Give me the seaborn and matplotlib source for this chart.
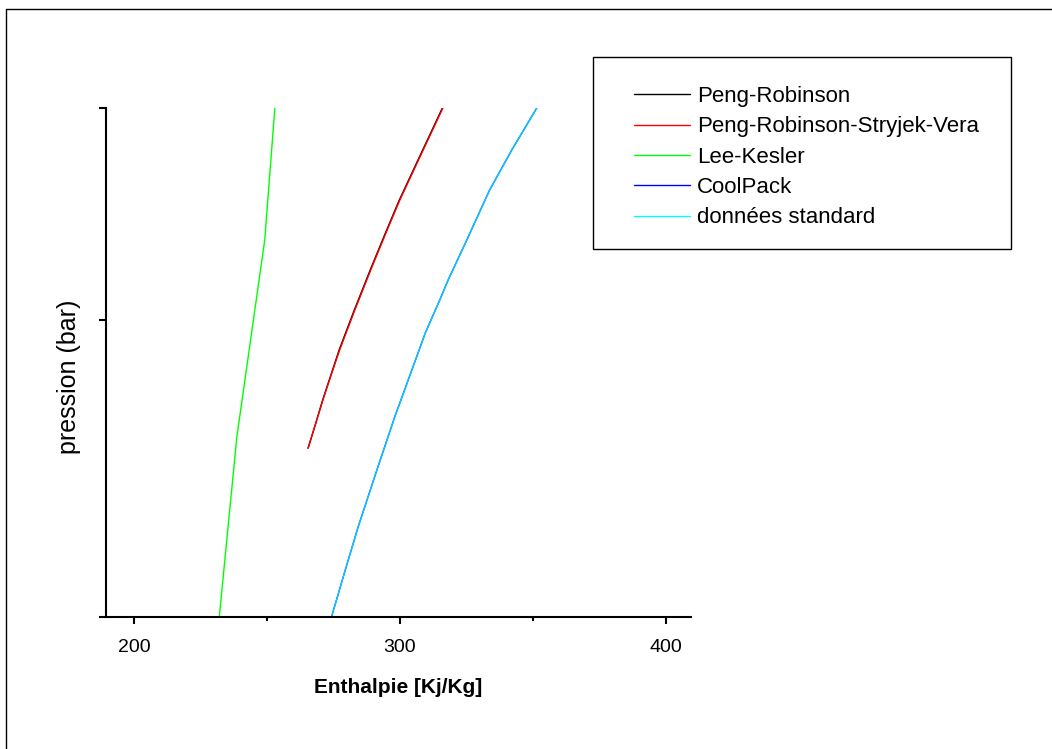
import matplotlib
matplotlib.use("Agg")
import matplotlib.pyplot as plt
from matplotlib.lines import Line2D
from matplotlib.patches import Rectangle
from matplotlib.ticker import FixedLocator, NullFormatter
import pandas as pd
import seaborn as sns

# Saturation curves: enthalpy [kJ/kg] against pressure [bar]
pr_h = [265.5, 268.2, 271.0, 274.1, 277.2, 282.9, 289.3, 294.3, 299.8, 307.7, 316.0]
pr_p = [3.98, 4.53, 5.12, 5.71, 6.30, 7.24, 8.25, 9.01, 9.83, 10.89, 12.0]

prsv_h = [265.5, 268.2, 271.1, 274.2, 277.4, 283.1, 289.5, 294.5, 300.0, 307.9, 316.2]
prsv_p = [3.98, 4.53, 5.12, 5.71, 6.30, 7.24, 8.25, 9.01, 9.83, 10.89, 12.0]

lk_h = [232.1, 238.7, 249.2, 253.0]
lk_p = [0.0, 4.24, 8.89, 12.0]

coolpack_h = [274.3, 279.5, 284.3, 291.4, 298.1, 304.5, 309.6, 315.0, 318.2,
              325.2, 333.8, 342.1, 351.5]
coolpack_p = [0.0, 1.11, 2.12, 3.47, 4.72, 5.82, 6.70, 7.47, 7.95,
              8.89, 10.07, 11.01, 12.0]

std_h = [274.3, 279.5, 284.3, 291.4, 298.1, 304.5, 309.6, 315.0, 318.2,
         325.2, 333.8, 342.1, 351.5]
std_p = [0.0, 1.11, 2.12, 3.47, 4.72, 5.82, 6.70, 7.47, 7.95,
         8.89, 10.07, 11.01, 12.0]

series_names = ["Peng-Robinson", "Peng-Robinson-Stryjek-Vera", "Lee-Kesler",
                "CoolPack", "données standard"]
series_colors = ["#000000", "#ff0000", "#00ff00", "#0000ff", "#00ffff"]

x_ticks = [200, 300, 400]
x_minor = [250, 350]
y_ticks = [0, 7, 12]

frames = []
for name, h, p in zip(series_names,
                      [pr_h, prsv_h, lk_h, coolpack_h, std_h],
                      [pr_p, prsv_p, lk_p, coolpack_p, std_p]):
    frames.append(pd.DataFrame({"h": h, "p": p, "model": name}))
df = pd.concat(frames, ignore_index=True)

sns.set_theme(style="white")
plt.rcParams["font.family"] = ["Liberation Sans", "DejaVu Sans"]
plt.rcParams["text.color"] = "black"
plt.rcParams["axes.labelcolor"] = "black"
plt.rcParams["xtick.color"] = "black"
plt.rcParams["ytick.color"] = "black"

W, H = 1052, 749
fig = plt.figure(figsize=(W / 100, H / 100), dpi=100)
ax = fig.add_axes([106 / W, (H - 617) / H, 585 / W, 509 / H])

alphas = {"données standard": 0.8}
for name, color in zip(series_names, series_colors):
    sub = df[df["model"] == name]
    sns.lineplot(data=sub, x="h", y="p", sort=False, estimator=None,
                 color=color, linewidth=1.0, alpha=alphas.get(name, 1.0),
                 ax=ax, legend=False)

ax.set_xlim(189.5, 409.5)
ax.set_ylim(0, 12)
ax.xaxis.set_major_locator(FixedLocator(x_ticks))
ax.xaxis.set_minor_locator(FixedLocator(x_minor))
ax.yaxis.set_major_locator(FixedLocator(y_ticks))
ax.yaxis.set_major_formatter(NullFormatter())
ax.set_xticklabels([str(t) for t in x_ticks])

for side in ["top", "right"]:
    ax.spines[side].set_visible(False)
for side in ["left", "bottom"]:
    ax.spines[side].set_color("black")
    ax.spines[side].set_linewidth(1.5)

ax.tick_params(axis="x", which="major", direction="out", length=5, width=1.5,
               color="black", labelcolor="black", labelsize=14, pad=10.5, bottom=True)
ax.tick_params(axis="x", which="minor", direction="out", length=3, width=1.5,
               color="black", bottom=True)
ax.tick_params(axis="y", which="major", direction="out", length=5, width=1.5,
               color="black", left=True)

ax.set_xlabel("Enthalpie [Kj/Kg]", fontsize=15, fontweight="bold",
              labelpad=16, color="black")
ax.set_ylabel("pression (bar)", fontsize=18, color="black")
ax.yaxis.set_label_coords(-0.043, 0.4715)

# Legend box and entries
fig.add_artist(Rectangle((593 / W, 1 - 249 / H), (1011 - 593) / W, (249 - 57) / H,
                         transform=fig.transFigure, fill=False,
                         edgecolor="black", linewidth=1.0))
handles = [Line2D([], [], color=c, linewidth=1.0) for c in series_colors]
fig.legend(handles, series_names, loc="upper left",
           bbox_to_anchor=(634 / W, 1 - 86 / H), frameon=False,
           fontsize=16, handlelength=2.52, handletextpad=0.3,
           labelspacing=0.42, borderpad=0, borderaxespad=0,
           labelcolor="black")

# Outer frame lines (top and left)
fig.add_artist(Line2D([6 / W, 1.0], [1 - 9 / H, 1 - 9 / H],
                      transform=fig.transFigure, color="black", linewidth=1.0))
fig.add_artist(Line2D([6 / W, 6 / W], [0.0, 1 - 9 / H],
                      transform=fig.transFigure, color="black", linewidth=1.0))

fig.savefig("out.png", dpi=100, facecolor="white")
